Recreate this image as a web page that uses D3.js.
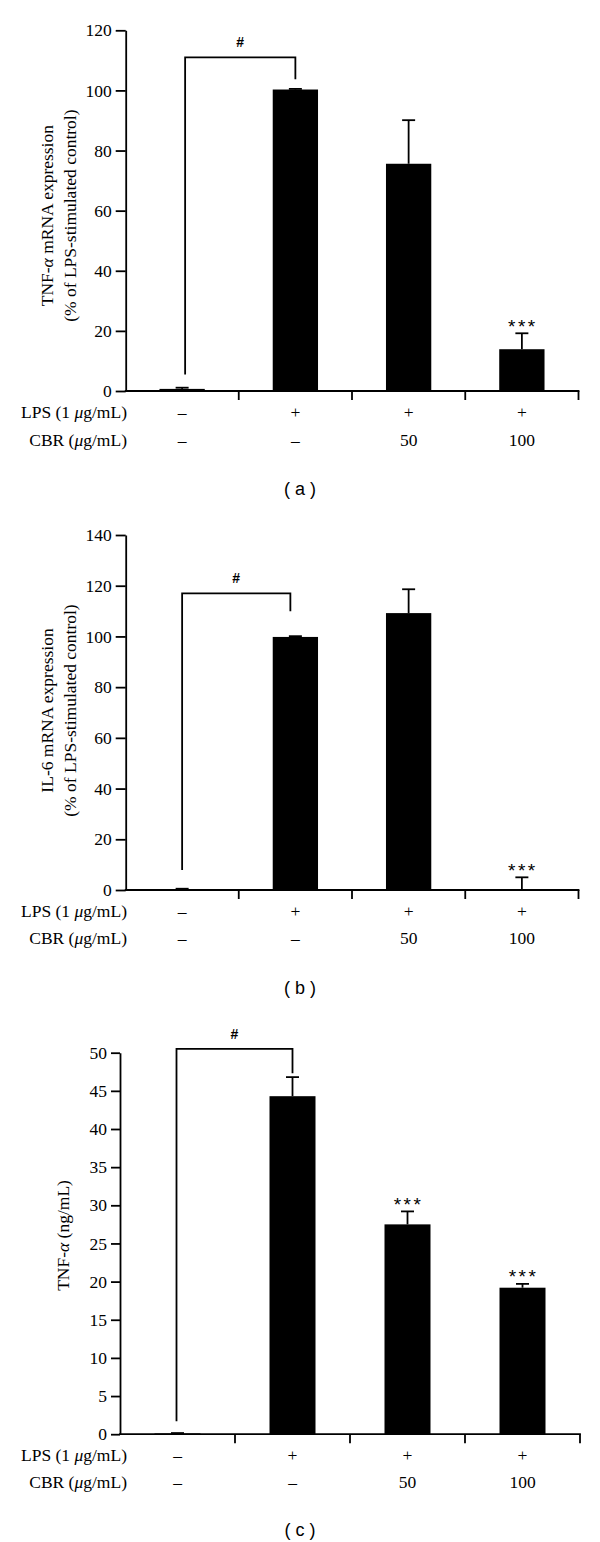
<!DOCTYPE html>
<html><head><meta charset="utf-8">
<script src="https://cdn.jsdelivr.net/npm/d3@7"></script>
<style>
html,body{margin:0;padding:0;background:#fff;}
svg{display:block;}
</style></head>
<body>
<svg id="chart" width="600" height="1542"></svg>
<script>
// ---------- data ----------
const groups = ["G1", "G2", "G3", "G4"];
const lpsLabels = ["–", "+", "+", "+"];
const cbrLabels = ["–", "–", "50", "100"];

const tnfMrnaValues = [0.7, 100.3, 75.6, 13.9];
const tnfMrnaErrors = [0.4, 0.2, 14.5, 5.3];
const tnfMrnaTicks = [0, 20, 40, 60, 80, 100, 120];

const il6MrnaValues = [0.3, 99.8, 109.2, 0.2];
const il6MrnaErrors = [0.2, 0.3, 9.4, 4.8];
const il6MrnaTicks = [0, 20, 40, 60, 80, 100, 120, 140];

const tnfProteinValues = [0.1, 44.3, 27.5, 19.2];
const tnfProteinErrors = [0.05, 2.5, 1.7, 0.5];
const tnfProteinTicks = [0, 5, 10, 15, 20, 25, 30, 35, 40, 45, 50];

// significance annotations: bracket [leftLegEnd, top, rightLegEnd] in data units, starred groups
const tnfMrnaBracket = [5.5, 111, 103.7];
const tnfMrnaStars = ["G4"];
const il6MrnaBracket = [7.9, 117, 109.9];
const il6MrnaStars = ["G4"];
const tnfProteinBracket = [1.7, 50.5, 47.3];
const tnfProteinStars = ["G3", "G4"];

// ---------- drawing ----------
const svg = d3.select("#chart");
const SERIF = "'Liberation Serif','Times New Roman',serif";
const SANS = "'Liberation Sans',Arial,sans-serif";
const SW = 1.8;

function drawPanel(cfg) {
  const g = svg.append("g");
  const y = d3.scaleLinear().domain([0, cfg.ticks[cfg.ticks.length - 1]]).range([cfg.bottom, cfg.top]);
  const x = d3.scaleBand().domain(groups).range(cfg.xRange).paddingInner(0.6).paddingOuter(0.3);

  // bars
  g.selectAll("rect.bar").data(groups).enter().append("rect")
    .attr("x", d => x(d))
    .attr("width", x.bandwidth())
    .attr("y", (d, i) => y(cfg.values[i]))
    .attr("height", (d, i) => y(0) - y(cfg.values[i]))
    .attr("fill", "#000");

  // error bars (upper only)
  const cap = 6.5;
  groups.forEach((d, i) => {
    const cx = x(d) + x.bandwidth() / 2;
    const yTop = y(cfg.values[i] + cfg.errors[i]);
    const yBar = y(cfg.values[i]);
    g.append("line").attr("x1", cx).attr("x2", cx).attr("y1", yBar).attr("y2", yTop)
      .attr("stroke", "#000").attr("stroke-width", SW);
    g.append("line").attr("x1", cx - cap).attr("x2", cx + cap).attr("y1", yTop).attr("y2", yTop)
      .attr("stroke", "#000").attr("stroke-width", SW);
  });

  // y axis
  const yAxis = d3.axisLeft(y).tickValues(cfg.ticks).tickSize(cfg.tickSize).tickPadding(4).tickSizeOuter(0);
  const ya = g.append("g").attr("transform", `translate(${cfg.yAxisX},0)`).call(yAxis);
  ya.select(".domain").attr("stroke-width", SW);
  ya.selectAll(".tick line").attr("stroke-width", SW);
  ya.selectAll(".tick text").attr("font-family", SERIF).attr("font-size", 17.5).attr("fill", "#000");

  // x axis with ticks at band boundaries
  const step = x.step();
  const x0 = cfg.xRange[0];
  g.append("line").attr("x1", cfg.yAxisX - 0.9).attr("x2", cfg.xRange[1] + 0.9)
    .attr("y1", y(0)).attr("y2", y(0)).attr("stroke", "#000").attr("stroke-width", SW);
  d3.range(1, groups.length + 1).forEach(k => {
    const tx = x0 + k * step;
    g.append("line").attr("x1", tx).attr("x2", tx).attr("y1", y(0)).attr("y2", y(0) + 9)
      .attr("stroke", "#000").attr("stroke-width", SW);
  });

  // row labels
  const rows = [
    {label: ["LPS (1 ", "μ", "g/mL)"], vals: lpsLabels, y: cfg.rowY[0]},
    {label: ["CBR (", "μ", "g/mL)"], vals: cbrLabels, y: cfg.rowY[1]}
  ];
  rows.forEach(r => {
    const t = g.append("text").attr("x", cfg.labelRight).attr("y", r.y)
      .attr("text-anchor", "end").attr("dominant-baseline", "central")
      .attr("font-family", SERIF).attr("font-size", 17.5).attr("fill", "#000");
    t.append("tspan").text(r.label[0]);
    t.append("tspan").attr("font-style", "italic").text(r.label[1]);
    t.append("tspan").text(r.label[2]);
    groups.forEach((d, i) => {
      g.append("text").attr("x", x(d) + x.bandwidth() / 2).attr("y", r.y)
        .attr("text-anchor", "middle").attr("dominant-baseline", "central")
        .attr("font-family", SERIF).attr("font-size", 17.5).attr("fill", "#000")
        .text(r.vals[i]);
    });
  });

  // y title
  const midY = (cfg.top + cfg.bottom) / 2;
  cfg.title.forEach((parts, li) => {
    const t = g.append("text")
      .attr("transform", `translate(${cfg.titleX[li]},${midY + cfg.titleShift}) rotate(-90)`)
      .attr("text-anchor", "middle").attr("dominant-baseline", "central")
      .attr("font-family", SERIF).attr("font-size", 17.5).attr("fill", "#000");
    parts.forEach(p => {
      const s = t.append("tspan").text(p.t);
      if (p.i) s.attr("font-style", "italic");
    });
  });

  // bracket "#"
  const bx1 = x(groups[0]) + x.bandwidth() / 2 + cfg.bracketDx[0];
  const bx2 = x(groups[1]) + x.bandwidth() / 2 + cfg.bracketDx[1];
  const br = cfg.bracket;
  g.append("path")
    .attr("d", `M${bx1},${y(br[0])}V${y(br[1])}H${bx2}V${y(br[2])}`)
    .attr("fill", "none").attr("stroke", "#000").attr("stroke-width", SW);
  g.append("text").attr("x", (bx1 + bx2) / 2).attr("y", y(br[1]) - 15)
    .attr("text-anchor", "middle").attr("dominant-baseline", "central")
    .attr("font-family", SANS).attr("font-size", 14).attr("font-weight", "bold").attr("fill", "#000").text("#");

  // stars
  cfg.stars.forEach(s => {
    const i = groups.indexOf(s);
    g.append("text").attr("x", x(s) + x.bandwidth() / 2 + 1).attr("y", y(cfg.values[i] + cfg.errors[i]) - 7)
      .attr("text-anchor", "middle").attr("dominant-baseline", "central")
      .attr("font-family", SANS).attr("font-size", 19).attr("letter-spacing", 2.5).attr("fill", "#000").text("***");
  });

  // caption
  g.append("text").attr("x", 300).attr("y", cfg.captionY)
    .attr("text-anchor", "middle").attr("dominant-baseline", "central")
    .attr("font-family", SANS).attr("font-size", 18).attr("fill", "#000").text(cfg.caption);
}

drawPanel({
  values: tnfMrnaValues, errors: tnfMrnaErrors, ticks: tnfMrnaTicks,
  top: 30.3, bottom: 391, yAxisX: 125.7, xRange: [125.5, 578.5], tickSize: 10,
  rowY: [412, 440], labelRight: 127, captionY: 489,
  title: [[{t: "TNF-"}, {t: "α", i: true}, {t: " mRNA expression"}], [{t: "(% of LPS-stimulated control)"}]],
  titleX: [47, 70], titleShift: 5,
  bracket: tnfMrnaBracket, bracketDx: [3, 0], stars: tnfMrnaStars, caption: "( a )"
});
drawPanel({
  values: il6MrnaValues, errors: il6MrnaErrors, ticks: il6MrnaTicks,
  top: 535, bottom: 890, yAxisX: 125.7, xRange: [125.5, 578.5], tickSize: 10,
  rowY: [911, 938], labelRight: 127, captionY: 988,
  title: [[{t: "IL-6 mRNA expression"}], [{t: "(% of LPS-stimulated control)"}]],
  titleX: [47, 70], titleShift: -2,
  bracket: il6MrnaBracket, bracketDx: [0, -5], stars: il6MrnaStars, caption: "( b )"
});
drawPanel({
  values: tnfProteinValues, errors: tnfProteinErrors, ticks: tnfProteinTicks,
  top: 1052.7, bottom: 1434.2, yAxisX: 120, xRange: [120, 580], tickSize: 9,
  rowY: [1455, 1482], labelRight: 127, captionY: 1530,
  title: [[{t: "TNF-"}, {t: "α", i: true}, {t: " (ng/mL)"}]],
  titleX: [63], titleShift: -8,
  bracket: tnfProteinBracket, bracketDx: [-1, 0], stars: tnfProteinStars, caption: "( c )"
});
</script>
</body></html>
